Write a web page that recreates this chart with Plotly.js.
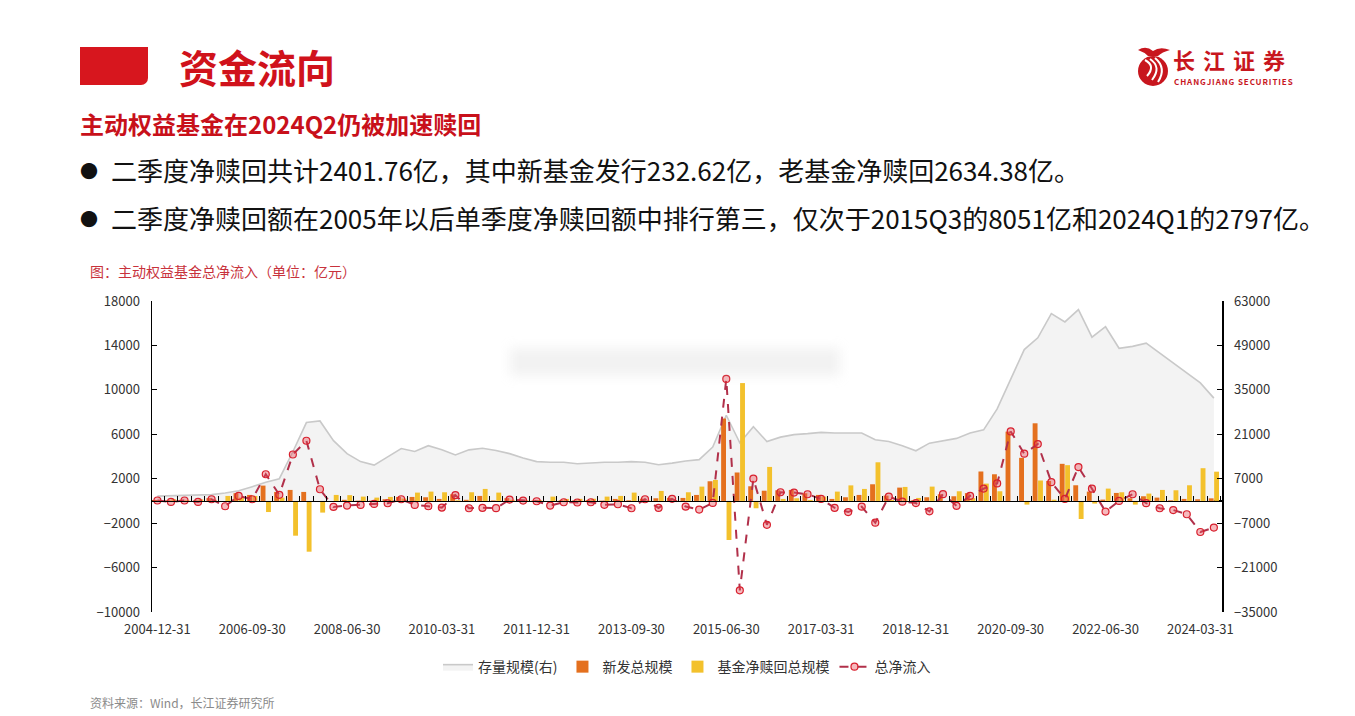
<!DOCTYPE html>
<html><head><meta charset="utf-8">
<script src="https://cdn.plot.ly/plotly-3.0.1.min.js"></script>
<style>
html,body{margin:0;padding:0;background:#fff;width:1355px;height:716px;overflow:hidden;font-family:"Noto Sans CJK SC","Noto Sans",sans-serif;}
#chart{position:absolute;left:0;top:0;width:1355px;height:716px;}
.ov{position:absolute;z-index:10;white-space:nowrap;}
</style></head>
<body>
<div id="chart"></div>
<div class="ov" style="left:80px;top:47px;width:68px;height:38px;background:#D7161E;border-bottom-right-radius:7px;"></div>
<div class="ov" style="left:179px;top:40px;font-size:39px;font-weight:700;color:#D0121B;line-height:52px;">资金流向</div>
<div class="ov" style="left:80px;top:108px;font-size:24px;font-weight:700;color:#C8101A;line-height:32px;">主动权益基金在2024Q2仍被加速赎回</div>
<div class="ov" style="left:80px;top:152px;font-size:26px;color:#111;line-height:36px;"><span style="font-size:18px;position:relative;top:-3px;">●</span><span style="margin-left:13px;">二季度净赎回共计2401.76亿，其中新基金发行232.62亿，老基金净赎回2634.38亿。</span></div>
<div class="ov" style="left:80px;top:200px;font-size:26px;color:#111;line-height:36px;"><span style="font-size:18px;position:relative;top:-3px;">●</span><span style="margin-left:13px;">二季度净赎回额在2005年以后单季度净赎回额中排行第三，仅次于2015Q3的8051亿和2024Q1的2797亿。</span></div>
<div class="ov" style="left:90px;top:262px;font-size:14px;color:#C8323C;line-height:18px;">图：主动权益基金总净流入（单位：亿元）</div>
<div class="ov" style="left:90px;top:695px;font-size:12px;color:#8a8a8a;line-height:16px;">资料来源：Wind，长江证券研究所</div>
<div class="ov" style="left:510px;top:348px;width:330px;height:28px;background:rgba(195,195,195,0.22);filter:blur(6px);"></div>
<svg class="ov" style="left:1134px;top:44px;" width="40" height="44" viewBox="0 0 40 44">
  <path d="M4 6 Q12 1 19 7 Q26 2 36 6 Q28 8 24 12 L14 12 Q10 8 4 6Z" fill="#C8161E"/>
  <circle cx="19" cy="27" r="15" fill="#C8161E"/>
  <path d="M11 16 Q22 22 13 32 M16 15 Q28 23 18 36 M21 14 Q33 24 24 38" stroke="#fff" stroke-width="2" fill="none"/>
</svg>
<div class="ov" style="left:1173px;top:46px;font-size:22px;font-weight:700;color:#C8161E;letter-spacing:8px;line-height:26px;height:26px;">长江证券</div>
<div class="ov" style="left:1174px;top:77px;font-size:8px;font-weight:700;color:#C8161E;line-height:9px;height:9px;letter-spacing:0.9px;">CHANGJIANG SECURITIES</div>
<script>
// ---- data (亿元) ----
const quarters = [
'2004-12-31',
'2005-03-31','2005-06-30','2005-09-30','2005-12-31',
'2006-03-31','2006-06-30','2006-09-30','2006-12-31',
'2007-03-31','2007-06-30','2007-09-30','2007-12-31',
'2008-03-31','2008-06-30','2008-09-30','2008-12-31',
'2009-03-31','2009-06-30','2009-09-30','2009-12-31',
'2010-03-31','2010-06-30','2010-09-30','2010-12-31',
'2011-03-31','2011-06-30','2011-09-30','2011-12-31',
'2012-03-31','2012-06-30','2012-09-30','2012-12-31',
'2013-03-31','2013-06-30','2013-09-30','2013-12-31',
'2014-03-31','2014-06-30','2014-09-30','2014-12-31',
'2015-03-31','2015-06-30','2015-09-30','2015-12-31',
'2016-03-31','2016-06-30','2016-09-30','2016-12-31',
'2017-03-31','2017-06-30','2017-09-30','2017-12-31',
'2018-03-31','2018-06-30','2018-09-30','2018-12-31',
'2019-03-31','2019-06-30','2019-09-30','2019-12-31',
'2020-03-31','2020-06-30','2020-09-30','2020-12-31',
'2021-03-31','2021-06-30','2021-09-30','2021-12-31',
'2022-03-31','2022-06-30','2022-09-30','2022-12-31',
'2023-03-31','2023-06-30','2023-09-30','2023-12-31',
'2024-03-31','2024-06-30'];

const tickLabels = ['2004-12-31','2006-09-30','2008-06-30','2010-03-31','2011-12-31','2013-09-30',
'2015-06-30','2017-03-31','2018-12-31','2020-09-30','2022-06-30','2024-03-31'];

// 存量规模(右)
const stockScale = [1500,
1600,1700,1800,2000, 2500,3200,4500,5900, 7000,15500,24700,25200,
19000,14900,12400,11300, 13900,16500,15600,17400, 16100,14500,16100,16600,
15900,14900,13500,12400, 12200,12200,11700,12000, 12200,12200,12400,12200,
11400,11900,12600,13000, 17000,27000,18300,23400, 18700,20100,20900,21200,
21600,21400,21400,21400, 19300,18700,17400,15800, 18200,18900,19700,21400,
22400,29000,38200,47700, 51400,59000,56400,60300, 51600,54900,48100,48700,
49700,46600,43500,40300, 37200,32400];

// 新发总规模
const newIssue = [80,
60,100,50,250, 0,700,540,1380, 810,990,810,0,
0,100,30,30, 150,360,360,330, 180,600,100,450,
50,250,100,50, 0,60,50,80, 30,180,60,200,
240,280,270,540, 1770,7420,2560,1320, 920,960,990,690,
540,180,330,540, 1500,480,1200,60, 330,600,420,700,
2650,2400,6240,3880, 6990,1800,3340,1410, 840,120,720,240,
420,300,60,180, 150,232.62];

// 基金净赎回总规模
const netRedemption = [40,
150,60,140,100, 450,300,450,-1000, 300,-3130,-4570,-1050,
540,520,390,300, 360,210,750,840, 780,60,780,1080,
750,100,70,80, 390,180,190,200, 390,450,750,50,
900,80,780,1290, 1890,-3520,10611,-660, 3060,180,240,90,
390,840,1400,1080, 3480,90,1260,270, 1290,0,870,250,
1560,870,0,-330, 1840,110,3220,-1630, -240,1110,780,-330,
660,990,960,1410, 2947,2634.38];

// 总净流入
const totalNetInflow = [40,
-90,40,-90,150, -480,450,150,2400, 550,4180,5420,1050,
-540,-420,-360,-270, -210,150,-360,-480, -600,520,-660,-620,
-650,120,30,-30, -420,-120,-140,-120, -350,-300,-660,150,
-630,190,-510,-780, -180,10980,-8051,2000, -2150,780,750,600,
180,-620,-1000,-520, -1960,390,-70,-190, -940,610,-440,450,
1110,1580,6260,4250, 5120,1690,180,3050, 1100,-960,0,600,
-200,-660,-820,-1200, -2797,-2401.76];

const FONT = '"Noto Sans CJK SC","Noto Sans",sans-serif';

const traces = [
  {type:'scatter', mode:'lines', name:'存量规模(右)', x:quarters, y:stockScale,
   xaxis:'x', yaxis:'y', fill:'tozeroy', fillcolor:'#F3F3F3',
   line:{color:'#C9C9C9', width:1.6}, hoverinfo:'skip'},
  {type:'bar', name:'新发总规模', x:quarters, y:newIssue, xaxis:'x', yaxis:'y2',
   marker:{color:'#E4701E'}, hoverinfo:'skip'},
  {type:'bar', name:'基金净赎回总规模', x:quarters, y:netRedemption, xaxis:'x', yaxis:'y2',
   marker:{color:'#F3C12C'}, hoverinfo:'skip'},
  {type:'scatter', mode:'lines+markers', name:'总净流入', x:quarters, y:totalNetInflow,
   xaxis:'x2', yaxis:'y2',
   line:{color:'#B1304A', width:2, dash:'dash'},
   marker:{symbol:'circle', size:7, color:'rgba(232,80,90,0.4)', line:{color:'#D8202E', width:1.2}},
   hoverinfo:'skip'}
];

const layout = {
  width:1355, height:716,
  margin:{l:152, r:133, t:301, b:104},
  paper_bgcolor:'rgba(0,0,0,0)', plot_bgcolor:'rgba(0,0,0,0)',
  font:{family:FONT, size:13, color:'#333'},
  showlegend:true,
  legend:{orientation:'h', x:0.5, xanchor:'center', y:-0.177, yanchor:'middle',
          font:{family:FONT, size:14, color:'#333'}, itemwidth:30, traceorder:'normal'},
  barmode:'group', bargap:0.2, bargroupgap:0.1,
  xaxis:{type:'category', range:[-0.4,78.6], tickmode:'array', tickvals:tickLabels, ticktext:tickLabels,
         showline:false, ticks:'', showgrid:false, zeroline:false,
         tickfont:{family:FONT, size:13, color:'#333'}, ticklabelstandoff:8},
  xaxis2:{type:'category', overlaying:'x', anchor:'free', position:10000/28000,
          range:[-0.4,78.6], tickmode:'linear', tick0:0, dtick:1, tickson:'boundaries',
          ticks:'inside', ticklen:5, tickcolor:'#000', tickwidth:1,
          showticklabels:false, showline:true, linecolor:'#000', linewidth:1.5,
          showgrid:false, zeroline:false},
  yaxis:{side:'right', range:[-35000,63000], tickmode:'linear', tick0:-35000, dtick:14000,
         tickformat:'d',
         showline:true, linecolor:'#000', linewidth:1.5, ticks:'inside', ticklen:5, tickcolor:'#000',
         showgrid:false, zeroline:false, tickfont:{family:FONT, size:13, color:'#333'},
         ticklabelstandoff:8},
  yaxis2:{side:'left', overlaying:'y', range:[-10000,18000], tickmode:'linear', tick0:-10000, dtick:4000,
          tickformat:'d',
          showline:true, linecolor:'#000', linewidth:1.5, ticks:'inside', ticklen:5, tickcolor:'#000',
          showgrid:false, zeroline:true, zerolinecolor:'#000', zerolinewidth:1.5,
          tickfont:{family:FONT, size:13, color:'#333'},
          ticklabelstandoff:8}
};

Plotly.newPlot('chart', traces, layout, {staticPlot:true, displayModeBar:false});
</script>
</body></html>
